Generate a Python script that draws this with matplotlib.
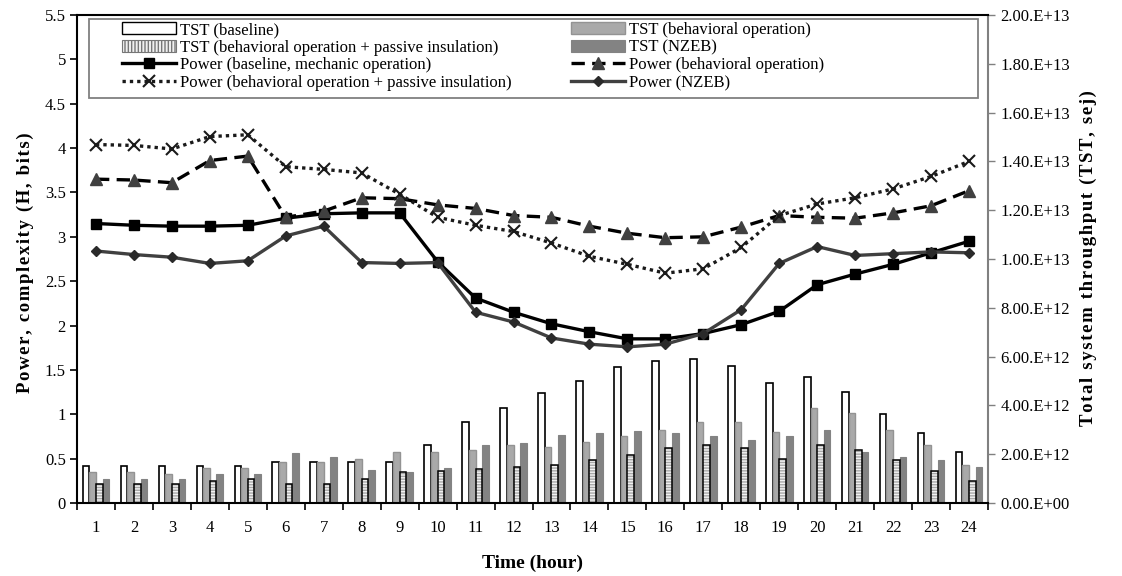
import matplotlib
matplotlib.use('Agg')
import matplotlib.pyplot as plt
import numpy as np
from matplotlib.patches import Patch, Rectangle
from matplotlib.lines import Line2D
from matplotlib.ticker import FuncFormatter

plt.rcParams['font.family'] = ['Liberation Serif', 'DejaVu Serif']

hours = list(range(1, 25))
hour_labels = [str(h) for h in hours]

# TST values (x 1e12 sej)
tst_baseline = [1.53, 1.53, 1.53, 1.53, 1.53, 1.67, 1.67, 1.67, 1.67, 2.37, 3.34, 3.88,
                4.51, 5.00, 5.56, 5.82, 5.89, 5.63, 4.93, 5.15, 4.53, 3.63, 2.86, 2.10]
tst_behavioral = [1.27, 1.27, 1.20, 1.45, 1.45, 1.67, 1.67, 1.82, 2.11, 2.09, 2.17, 2.37,
                  2.31, 2.52, 2.73, 3.00, 3.34, 3.34, 2.93, 3.90, 3.69, 3.00, 2.37, 1.54]
tst_passive = [0.76, 0.76, 0.76, 0.91, 0.98, 0.76, 0.76, 0.98, 1.27, 1.33, 1.40, 1.47,
               1.54, 1.76, 1.95, 2.24, 2.37, 2.24, 1.81, 2.37, 2.17, 1.75, 1.33, 0.91]
tst_nzeb = [0.98, 0.98, 0.98, 1.20, 1.20, 2.04, 1.89, 1.35, 1.27, 1.42, 2.37, 2.45,
            2.79, 2.88, 2.95, 2.87, 2.73, 2.59, 2.73, 3.01, 2.10, 1.89, 1.76, 1.47]

# Power / complexity (H, bits)
power_baseline = [3.15, 3.13, 3.12, 3.12, 3.13, 3.21, 3.26, 3.27, 3.27, 2.72, 2.31, 2.15,
                  2.02, 1.93, 1.85, 1.85, 1.91, 2.01, 2.16, 2.46, 2.58, 2.69, 2.82, 2.95]
power_behavioral = [3.65, 3.64, 3.61, 3.86, 3.91, 3.22, 3.29, 3.44, 3.43, 3.36, 3.32, 3.24,
                    3.22, 3.12, 3.04, 2.99, 3.00, 3.11, 3.24, 3.22, 3.21, 3.27, 3.35, 3.52]
power_passive = [4.04, 4.03, 3.99, 4.13, 4.15, 3.79, 3.76, 3.72, 3.48, 3.22, 3.13, 3.06,
                 2.93, 2.78, 2.69, 2.59, 2.64, 2.88, 3.24, 3.37, 3.44, 3.54, 3.68, 3.85]
power_nzeb = [2.84, 2.80, 2.77, 2.70, 2.73, 3.01, 3.12, 2.71, 2.70, 2.71, 2.15, 2.04,
              1.86, 1.79, 1.76, 1.79, 1.91, 2.18, 2.70, 2.89, 2.79, 2.81, 2.83, 2.82]

W, H = 1122, 576
fig = plt.figure(figsize=(W / 100, H / 100), dpi=100)
ax = fig.add_axes([77 / W, 1 - 503 / H, 911 / W, 488 / H])
ax2 = ax.twinx()

x = np.array(hours, dtype=float)
bw = 0.175
scale = 1e12
ax2.bar(x - 1.5 * bw, np.array(tst_baseline) * scale, bw, facecolor='white',
        edgecolor='black', linewidth=1.2, zorder=2)
ax2.bar(x - 0.5 * bw, np.array(tst_behavioral) * scale, bw, facecolor='#a9a9a9',
        edgecolor='#939393', linewidth=1.0, zorder=2)
ax2.bar(x + 0.5 * bw, np.array(tst_passive) * scale, bw, facecolor='#f2f2f2',
        edgecolor='#a8a8a8', linewidth=0, hatch='------', zorder=2)
ax2.bar(x + 0.5 * bw, np.array(tst_passive) * scale, bw, facecolor='none',
        edgecolor='black', linewidth=1.1, zorder=3)
ax2.bar(x + 1.5 * bw, np.array(tst_nzeb) * scale, bw, facecolor='#838383',
        edgecolor='#838383', linewidth=0.8, zorder=2)

lw = 2.4
ax.plot(x, power_baseline, color='black', lw=lw, marker='s', ms=7.5,
        mfc='black', mec='black', zorder=5)
ax.plot(x, power_behavioral, color='black', lw=lw, ls=(0, (4, 2.2)), marker='^',
        ms=8, mfc='#404040', mec='#404040', zorder=5)
ax.plot(x, power_passive, color='#1a1a1a', lw=lw, ls=(0, (1, 1.2)), marker='x',
        ms=8, mew=1.5, mec='#1a1a1a', zorder=5)
ax.plot(x, power_nzeb, color='#404040', lw=lw, marker='D', ms=5.5,
        mfc='#2a2a2a', mec='#2a2a2a', zorder=5)

ax.set_zorder(ax2.get_zorder() + 1)
ax.patch.set_visible(False)

ax.set_xlim(0.5, 24.5)
ax.set_ylim(0, 5.5)
ax2.set_ylim(0, 2.0e13)

ax.set_yticks(np.arange(0, 5.51, 0.5))
ax.yaxis.set_major_formatter(FuncFormatter(lambda v, p: ('%g' % round(v, 2))))
ax2.set_yticks(np.arange(0, 2.01e13, 2e12))


def sci_fmt(v, p):
    if v == 0:
        return '0.00.E+00'
    e = int(np.floor(np.log10(abs(v)) + 1e-9))
    m = v / 10 ** e
    return '%.2f.E+%02d' % (m, e)


ax2.yaxis.set_major_formatter(FuncFormatter(sci_fmt))

ax.set_xticks(np.arange(0.5, 24.6, 1.0))
ax.set_xticklabels([])
ax.set_xticks(x, minor=True)
ax.set_xticklabels(hour_labels, minor=True)
ax.tick_params(axis='x', which='major', direction='out', length=5, width=1.2, color='black')
ax.tick_params(axis='x', which='minor', length=0, pad=12, labelsize=12)
ax.tick_params(axis='y', direction='out', length=5, width=1.2, labelsize=12, pad=3)
ax2.tick_params(axis='y', direction='out', length=5, width=1.0, color='#808080',
                labelsize=12, pad=4)

for s in ['left', 'bottom', 'top']:
    ax.spines[s].set_linewidth(1.5)
    ax.spines[s].set_color('black')
ax.spines['right'].set_visible(False)
for s in ['left', 'bottom', 'top']:
    ax2.spines[s].set_visible(False)
ax2.spines['right'].set_color('#808080')
ax2.spines['right'].set_linewidth(1.5)


def spaced(s):
    return '\u200a'.join(s)


ax.set_xlabel('Time (hour)', fontsize=14, fontweight='bold', labelpad=14)
fig.text(25 / W, 1 - 263 / H, spaced('Power, complexity (H, bits)'), rotation=90,
         fontsize=13.5, fontweight='bold', ha='center', va='center')
fig.text(1088 / W, 1 - 258 / H, spaced('Total system throughput (TST, sej)'), rotation=90,
         fontsize=13.5, fontweight='bold', ha='center', va='center')

# Legend
h_tb = Patch(facecolor='white', edgecolor='black', linewidth=1.0)
h_tp = Patch(facecolor='#f0f0f0', edgecolor='#777777', linewidth=0.8, hatch='|||||')
h_pb = Line2D([], [], color='black', lw=lw, marker='s', ms=7.5, mfc='black', mec='black')
h_pp = Line2D([], [], color='#1a1a1a', lw=lw, ls=(0, (1, 1.2)), marker='x', ms=8, mew=1.5)
h_tbh = Patch(facecolor='#a9a9a9', edgecolor='#939393', linewidth=1.0)
h_tn = Patch(facecolor='#838383', edgecolor='#838383', linewidth=0.8)
h_pbh = Line2D([], [], color='black', lw=lw, ls=(0, (4, 2.2)), marker='^', ms=8,
               mfc='#404040', mec='#404040')
h_pn = Line2D([], [], color='#404040', lw=lw, marker='D', ms=5.5, mfc='#2a2a2a', mec='#2a2a2a')

handles = [h_tb, h_tp, h_pb, h_pp, h_tbh, h_tn, h_pbh, h_pn]
labels = ['TST (baseline)',
          'TST (behavioral operation + passive insulation)',
          'Power (baseline, mechanic operation)',
          'Power (behavioral operation + passive insulation)',
          'TST (behavioral operation)',
          'TST (NZEB)',
          'Power (behavioral operation)',
          'Power (NZEB)']

frame = Rectangle((89 / W, 1 - 98 / H), (978 - 89) / W, (98 - 19) / H,
                  transform=fig.transFigure, facecolor='white', edgecolor='#808080',
                  linewidth=1.3, zorder=9, clip_on=False)
ax.add_patch(frame)

leg = ax.legend(handles, labels, ncol=2, loc='upper left',
                bbox_to_anchor=(122 / W, 1 - 22 / H), bbox_transform=fig.transFigure,
                frameon=False, fontsize=12, handlelength=3.25, handleheight=0.7,
                handletextpad=0.2, labelspacing=0.1, columnspacing=3.6,
                borderpad=0.0, borderaxespad=0)
leg.set_zorder(11)

fig.savefig('out.png', dpi=100)
